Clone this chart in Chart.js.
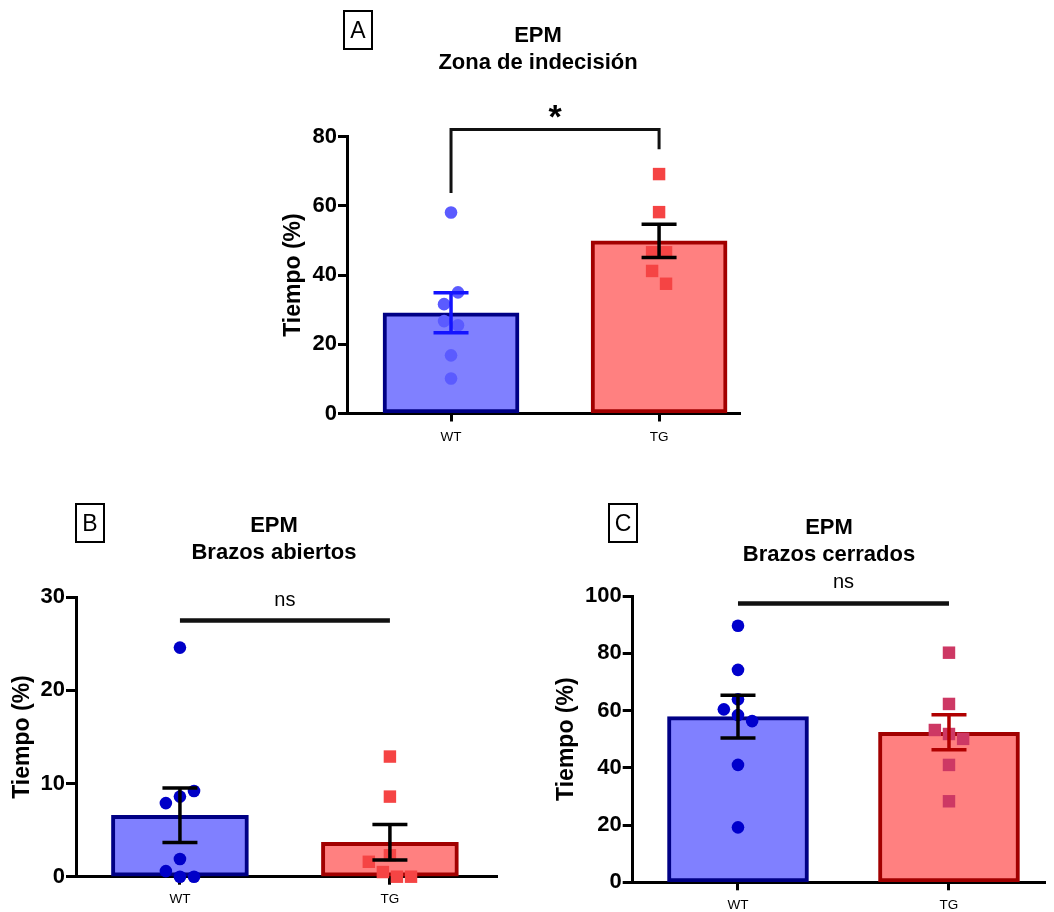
<!DOCTYPE html>
<html>
<head>
<meta charset="utf-8">
<script src="https://cdn.jsdelivr.net/npm/chart.js@4.4.1/dist/chart.umd.min.js"></script>
<style>
  body { margin: 0; background: #fff; width: 1054px; height: 912px; position: relative; overflow: hidden;
         font-family: "Liberation Sans", Arial, sans-serif; }
  canvas { position: absolute; }
  .title { position: absolute; width: 320px; text-align: center; font-weight: bold; font-size: 22px; line-height: 27px; color: #000; }
  .tag { position: absolute; width: 30px; height: 40px; box-sizing: border-box; border: 2px solid #000; font-size: 23px;
         display: flex; align-items: center; justify-content: center; color: #000; }
</style>
</head>
<body>
<canvas id="chartA" width="510" height="460" style="left:250px;top:0"></canvas>
<canvas id="chartB" width="520" height="442" style="left:0;top:470px"></canvas>
<canvas id="chartC" width="524" height="442" style="left:530px;top:470px"></canvas>

<div class="tag" style="left:343px;top:10px">A</div>
<div class="title" style="left:378px;top:21px">EPM<br>Zona de indecisión</div>
<div class="tag" style="left:75px;top:503px">B</div>
<div class="title" style="left:114px;top:511px">EPM<br>Brazos abiertos</div>
<div class="tag" style="left:608px;top:503px">C</div>
<div class="title" style="left:669px;top:513px">EPM<br>Brazos cerrados</div>

<script>
const FONT = '"Liberation Sans", Arial, sans-serif';
const categories = ['WT', 'TG'];

// A - zona de indecision (tiempo %)
const zonaWT = [58.1, 35.0, 31.6, 26.7, 25.5, 16.8, 10.1];
const zonaTG = [69.2, 58.2, 46.6, 46.6, 41.2, 37.5];
// B - brazos abiertos
const abiertosWT = [24.6, 9.2, 8.6, 7.9, 1.9, 0.6, 0, 0];
const abiertosTG = [12.9, 8.6, 2.3, 1.6, 0.5, 0, 0];
// C - brazos cerrados
const cerradosWT = [89.6, 74.2, 63.9, 60.4, 58.4, 56.3, 41.0, 19.2];
const cerradosTG = [80.2, 62.3, 53.2, 51.8, 50.1, 41.0, 28.3];

const ticksA = [0, 20, 40, 60, 80];
const ticksB = [0, 10, 20, 30];
const ticksC = [0, 20, 40, 60, 80, 100];

// side offsets of the dots so they don't overlap (in marker widths)
const slotsA = [[0, 0.5, -0.5, -0.5, 0.5, 0, 0], [0, 0, -0.5, 0.5, -0.5, 0.5]];
const slotsB = [[0, 1, 0, -1, 0, -1, 0, 1], [0, 0, 0, -1.5, -0.5, 0.5, 1.5]];
const slotsC = [[0, 0, 0, -1, 0, 1, 0, 0], [0, 0, -1, 0, 1, 0, 0]];
const SLOT = 0.067;

function mean(a) { return a.reduce((s, v) => s + v, 0) / a.length; }
function sem(a) {
    const m = mean(a);
    const v = a.reduce((s, x) => s + (x - m) * (x - m), 0) / (a.length - 1);
    return Math.sqrt(v / a.length);
}

// error bars (mean +- SEM)
function errorBarPlugin(groups, colors) {
    return {
        id: 'errorBars',
        afterDatasetsDraw(chart) {
            const { ctx, scales: { x, y } } = chart;
            groups.forEach((g, i) => {
                const m = mean(g), e = sem(g);
                const px = x.getPixelForValue(i);
                const top = y.getPixelForValue(m + e), bot = y.getPixelForValue(m - e);
                ctx.save();
                ctx.strokeStyle = colors[i];
                ctx.lineWidth = 3.5;
                ctx.beginPath();
                ctx.moveTo(px, top); ctx.lineTo(px, bot);
                ctx.moveTo(px - 17.5, top); ctx.lineTo(px + 17.5, top);
                ctx.moveTo(px - 17.5, bot); ctx.lineTo(px + 17.5, bot);
                ctx.stroke();
                ctx.restore();
            });
        }
    };
}

// significance bracket / line with label
function sigPlugin(sig) {
    return {
        id: 'sig',
        afterDraw(chart) {
            const { ctx, scales: { x, y } } = chart;
            const x0 = x.getPixelForValue(0), x1 = x.getPixelForValue(1);
            const py = y.getPixelForValue(sig.y);
            ctx.save();
            ctx.strokeStyle = '#111';
            ctx.lineWidth = sig.width;
            ctx.beginPath();
            if (sig.legs) {
                ctx.moveTo(x0, y.getPixelForValue(sig.legs[0]));
                ctx.lineTo(x0, py);
                ctx.lineTo(x1, py);
                ctx.lineTo(x1, y.getPixelForValue(sig.legs[1]));
            } else {
                ctx.moveTo(x0, py);
                ctx.lineTo(x1, py);
            }
            ctx.stroke();
            ctx.fillStyle = '#000';
            ctx.font = sig.font;
            ctx.textAlign = 'center';
            ctx.textBaseline = 'alphabetic';
            const m = ctx.measureText(sig.label);
            const cy = py - sig.gap;
            ctx.fillText(sig.label, (x0 + x1) / 2, cy + (m.actualBoundingBoxAscent - m.actualBoundingBoxDescent) / 2);
            ctx.restore();
        }
    };
}

function points(values, slots, i) {
    return values.map((v, j) => ({ x: i + slots[j] * SLOT, y: v }));
}

function panel(id, o) {
    const g = o.groups;
    new Chart(document.getElementById(id), {
        type: 'bar',
        data: {
            datasets: [
                { type: 'scatter', data: points(g[0], o.slots[0], 0), pointStyle: 'circle', pointRadius: 6.3,
                  backgroundColor: o.pointColors[0], borderWidth: 0, clip: false, order: 1 },
                { type: 'scatter', data: points(g[1], o.slots[1], 1), pointStyle: 'rect', pointRadius: 8.8,
                  backgroundColor: o.pointColors[1], borderWidth: 0, clip: false, order: 1 },
                { type: 'bar', data: g.map((vals, i) => ({ x: i, y: mean(vals) })),
                  backgroundColor: ['#8080ff', '#ff8080'], borderColor: ['#000085', '#a20000'],
                  borderWidth: 4, borderSkipped: false, barThickness: o.barWidth, order: 2 }
            ]
        },
        options: {
            responsive: false,
            animation: false,
            events: [],
            layout: { padding: o.padding },
            plugins: { legend: { display: false }, tooltip: { enabled: false } },
            scales: {
                x: {
                    type: 'linear', min: o.xRange[0], max: o.xRange[1], offset: false,
                    afterBuildTicks: s => { s.ticks = categories.map((c, i) => ({ value: i })); },
                    afterFit: s => { s.height = o.xHeight; },
                    ticks: { callback: v => categories[v], font: { family: FONT, size: 13.5 }, color: '#000',
                             padding: o.xPad, maxRotation: 0, autoSkip: false },
                    grid: { offset: false, drawOnChartArea: false, tickLength: 8, tickWidth: 3, tickColor: '#000' },
                    border: { color: '#000', width: 3 }
                },
                y: {
                    min: o.yTicks[0], max: o.yTicks[o.yTicks.length - 1],
                    afterBuildTicks: s => { s.ticks = o.yTicks.map(v => ({ value: v })); },
                    afterFit: s => { s.width = o.yWidth; },
                    ticks: { font: { family: FONT, size: 22, weight: 'bold' }, color: '#000', padding: 1 },
                    grid: { drawOnChartArea: false, tickLength: o.tickLen, tickWidth: 3, tickColor: '#000' },
                    border: { color: '#000', width: 3 },
                    title: { display: true, text: 'Tiempo (%)', color: '#000',
                             font: { family: FONT, size: 23, weight: 'bold' },
                             padding: { top: o.titlePad, bottom: 0 } }
                }
            }
        },
        plugins: [errorBarPlugin(g, o.errColors), sigPlugin(o.sig)]
    });
}

panel('chartA', {
    groups: [zonaWT, zonaTG], slots: slotsA, yTicks: ticksA,
    pointColors: ['#5b5bff', '#f54444'], errColors: ['#1414ff', '#000'],
    barWidth: 136, xRange: [-0.5, 1.389],
    padding: { left: 0, right: 20, top: 136.7, bottom: 6.5 },
    xHeight: 40, xPad: 8, yWidth: 97, tickLen: 9, titlePad: 30,
    sig: { y: 82.1, legs: [63.7, 76.4], label: '*', font: 'bold 34px ' + FONT, gap: 17.8, width: 3 }
});

panel('chartB', {
    groups: [abiertosWT, abiertosTG], slots: slotsB, yTicks: ticksB,
    pointColors: ['#0000c8', '#f54444'], errColors: ['#000', '#000'],
    barWidth: 137, xRange: [-0.495, 1.51],
    padding: { left: 0, right: 23, top: 127.3, bottom: 5.3 },
    xHeight: 30, xPad: 6, yWidth: 76, tickLen: 10, titlePad: 9,
    sig: { y: 27.5, label: 'ns', font: '20px ' + FONT, gap: 20.5, width: 4.5 }
});

panel('chartC', {
    groups: [cerradosWT, cerradosTG], slots: slotsC, yTicks: ticksC,
    pointColors: ['#0000cc', '#cd3864'], errColors: ['#000', '#b00000'],
    barWidth: 141, xRange: [-0.499, 1.456],
    padding: { left: 0, right: 1, top: 126, bottom: 1.7 },
    xHeight: 28, xPad: 7, yWidth: 102.7, tickLen: 10, titlePad: 23,
    sig: { y: 97.4, label: 'ns', font: '20px ' + FONT, gap: 20.5, width: 4.5 }
});
</script>
</body>
</html>
